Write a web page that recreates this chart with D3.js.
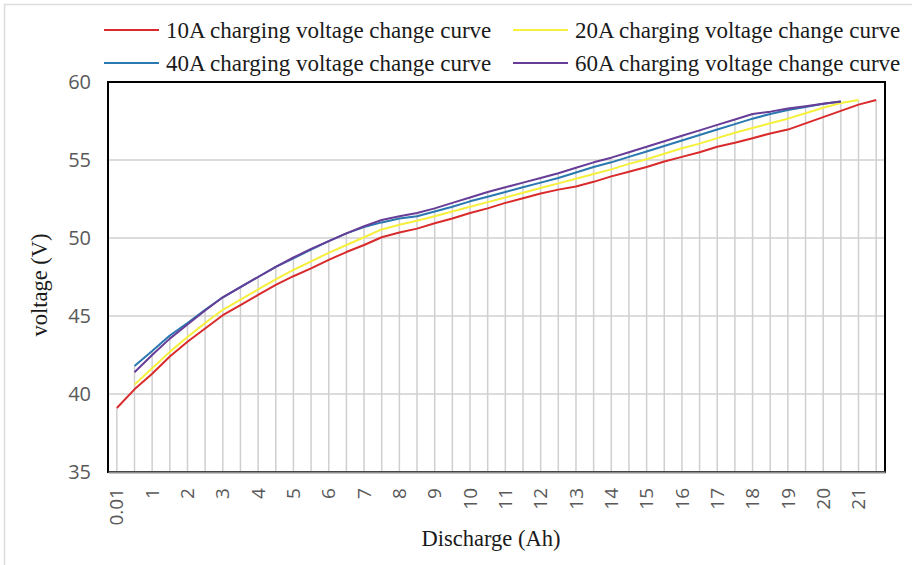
<!DOCTYPE html>
<html>
<head>
<meta charset="utf-8">
<script src="https://cdn.jsdelivr.net/npm/d3@7.9.0/dist/d3.min.js"></script>
<style>
  body { margin: 0; background: #fff; }
  svg { display: block; }
</style>
</head>
<body>
<svg id="chart" width="912" height="565"></svg>
<script>
// categories on the x axis (Ah), one every 0.5
const categories = ['0.01', '0.5', '1', '1.5', '2', '2.5', '3', '3.5', '4', '4.5', '5', '5.5',
  '6', '6.5', '7', '7.5', '8', '8.5', '9', '9.5', '10', '10.5', '11', '11.5', '12', '12.5',
  '13', '13.5', '14', '14.5', '15', '15.5', '16', '16.5', '17', '17.5', '18', '18.5', '19',
  '19.5', '20', '20.5', '21', '21.5'];

const yTicks = [35, 40, 45, 50, 55, 60];

// voltage (V) per category, null where the curve has no point
const curve10A = [39.1, 40.3, 41.3, 42.4, 43.35, 44.2, 45.05, 45.7, 46.35, 47.0, 47.55, 48.05,
  48.6, 49.1, 49.55, 50.05, 50.35, 50.6, 50.95, 51.25, 51.6, 51.9, 52.25, 52.55, 52.85, 53.1,
  53.3, 53.6, 53.95, 54.25, 54.55, 54.9, 55.2, 55.5, 55.85, 56.1, 56.4, 56.7, 56.95, 57.35,
  57.75, 58.15, 58.55, 58.85];
const curve20A = [null, 40.6, 41.65, 42.7, 43.65, 44.55, 45.4, 46.05, 46.7, 47.35, 47.95, 48.5,
  49.05, 49.55, 50.05, 50.55, 50.85, 51.1, 51.4, 51.7, 52.0, 52.3, 52.6, 52.9, 53.2, 53.5,
  53.8, 54.1, 54.4, 54.75, 55.05, 55.4, 55.75, 56.05, 56.4, 56.75, 57.05, 57.35, 57.65, 58.0,
  58.35, 58.65, 58.85, null];
const curve40A = [null, 41.8, 42.75, 43.75, 44.55, 45.4, 46.2, 46.85, 47.5, 48.15, 48.7, 49.25,
  49.8, 50.3, 50.7, 51.0, 51.25, 51.4, 51.7, 52.0, 52.35, 52.65, 52.95, 53.25, 53.55, 53.85,
  54.2, 54.55, 54.85, 55.2, 55.55, 55.9, 56.25, 56.6, 56.95, 57.3, 57.65, 57.95, 58.2, 58.4,
  58.6, 58.75, null, null];
const curve60A = [null, 41.4, 42.5, 43.55, 44.45, 45.35, 46.2, 46.85, 47.5, 48.15, 48.75, 49.3,
  49.8, 50.3, 50.75, 51.15, 51.4, 51.6, 51.9, 52.25, 52.6, 52.95, 53.25, 53.55, 53.85, 54.15,
  54.5, 54.85, 55.15, 55.5, 55.85, 56.2, 56.55, 56.9, 57.25, 57.6, 57.95, 58.1, 58.3, 58.45,
  58.6, 58.75, null, null];

const seriesNames = ['10A charging voltage change curve', '20A charging voltage change curve',
  '40A charging voltage change curve', '60A charging voltage change curve'];
const seriesColors = ['#d92b2b', '#f5f03c', '#2a78b0', '#673d98'];
const seriesValues = [curve10A, curve20A, curve40A, curve60A];

const plot = { left: 108, right: 885, top: 82, bottom: 472 };

const svg = d3.select('#chart');

// light outer chart border (only top and left are inside the picture)
svg.append('path')
  .attr('d', 'M4.5,565 V4.5 H912')
  .attr('fill', 'none')
  .attr('stroke', '#dcdcdc')
  .attr('stroke-width', 1.5);

const x = d3.scaleBand().domain(categories).range([plot.left, plot.right]);
const y = d3.scaleLinear().domain([35, 60]).range([plot.bottom, plot.top]);
const cx = (d) => x(d) + x.bandwidth() / 2;

// horizontal gridlines
svg.append('g')
  .selectAll('line')
  .data(yTicks.filter((d) => d > 35 && d < 60))
  .join('line')
  .attr('x1', plot.left).attr('x2', plot.right)
  .attr('y1', (d) => y(d)).attr('y2', (d) => y(d))
  .attr('stroke', '#d0d0d0')
  .attr('stroke-width', 1.5);

// drop lines from the highest point at each category down to the axis
const highest = categories.map((c, i) => {
  const vals = seriesValues.map((s) => s[i]).filter((v) => v != null);
  return { c, v: d3.max(vals) };
});
svg.append('g')
  .selectAll('line')
  .data(highest)
  .join('line')
  .attr('x1', (d) => cx(d.c)).attr('x2', (d) => cx(d.c))
  .attr('y1', (d) => y(d.v)).attr('y2', plot.bottom)
  .attr('stroke', '#cfcfcf')
  .attr('stroke-width', 1.5);

// curves
const line = d3.line()
  .defined((d) => d.v != null)
  .x((d) => cx(d.c))
  .y((d) => y(d.v));

seriesValues.forEach((vals, k) => {
  svg.append('path')
    .datum(categories.map((c, i) => ({ c, v: vals[i] })))
    .attr('d', line)
    .attr('fill', 'none')
    .attr('stroke', seriesColors[k])
    .attr('stroke-width', 2)
    .attr('stroke-linejoin', 'round');
});

// plot area frame
svg.append('rect')
  .attr('x', plot.left).attr('y', plot.top)
  .attr('width', plot.right - plot.left).attr('height', plot.bottom - plot.top)
  .attr('fill', 'none')
  .attr('stroke', '#000')
  .attr('stroke-width', 2);

// x axis
const xAxis = svg.append('g')
  .attr('transform', `translate(0,${plot.bottom})`)
  .call(d3.axisBottom(x).tickValues(categories.filter((d, i) => i % 2 === 0)).tickSize(0));
xAxis.select('.domain').attr('stroke', '#8c8c8c').attr('stroke-width', 2);
xAxis.selectAll('text')
  .attr('transform', 'rotate(-90)')
  .attr('x', -16).attr('y', 0).attr('dy', '0.35em')
  .attr('text-anchor', 'end')
  .attr('fill', '#595959')
  .style('font-family', '"Open Sans", sans-serif')
  .style('font-size', '19px');

// y axis
const yAxis = svg.append('g')
  .attr('transform', `translate(${plot.left},0)`)
  .call(d3.axisLeft(y).tickValues(yTicks).tickSize(0).tickPadding(17));
yAxis.select('.domain').remove();
yAxis.selectAll('text')
  .attr('fill', '#595959')
  .style('font-family', '"Open Sans", sans-serif')
  .style('font-size', '20px');

// axis titles
svg.append('text')
  .attr('x', 491).attr('y', 546)
  .attr('text-anchor', 'middle')
  .style('font-family', '"Liberation Serif", serif')
  .style('font-size', '22.5px')
  .attr('fill', '#1a1a1a')
  .text('Discharge (Ah)');

svg.append('text')
  .attr('transform', 'translate(47,285) rotate(-90)')
  .attr('text-anchor', 'middle')
  .style('font-family', '"Liberation Serif", serif')
  .style('font-size', '22.5px')
  .attr('fill', '#1a1a1a')
  .text('voltage (V)');

// legend, two rows of two
const legendPos = [[104, 30], [513, 30], [104, 63], [513, 63]];
seriesNames.forEach((name, k) => {
  const [lx, ly] = legendPos[k];
  const g = svg.append('g').attr('transform', `translate(${lx},${ly})`);
  g.append('line')
    .attr('x1', 0).attr('x2', 55)
    .attr('stroke', seriesColors[k])
    .attr('stroke-width', 2);
  g.append('text')
    .attr('x', 62).attr('y', 8)
    .style('font-family', '"Liberation Serif", serif')
    .style('font-size', '23px')
    .attr('fill', '#1a1a1a')
    .text(name);
});
</script>
</body>
</html>
